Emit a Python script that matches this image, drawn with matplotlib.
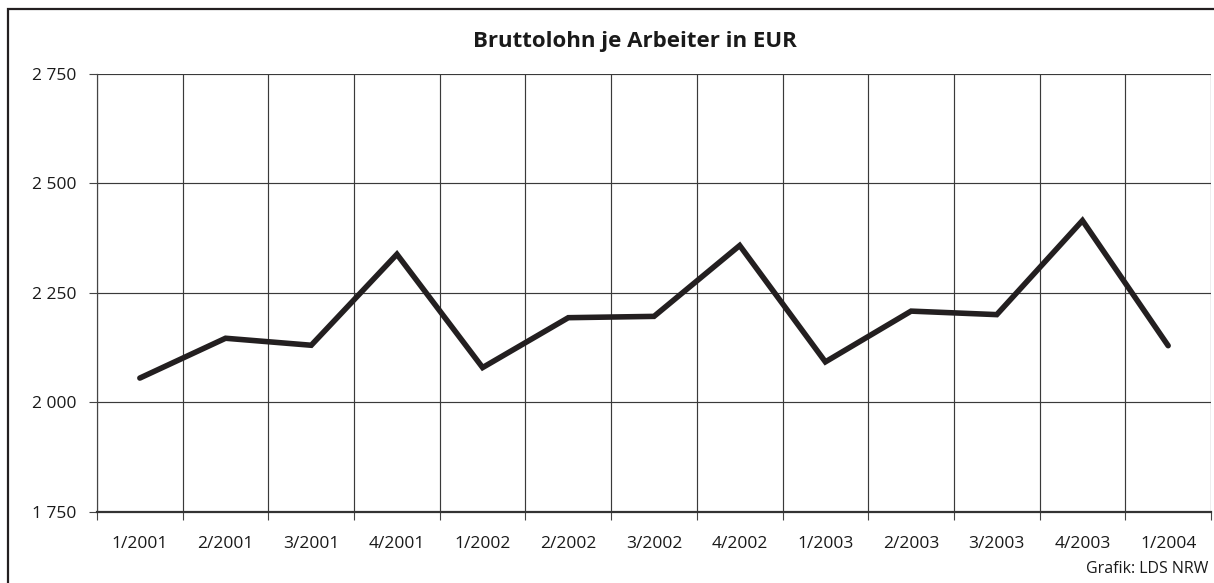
import matplotlib
matplotlib.use("Agg")
import matplotlib.pyplot as plt
from matplotlib.patches import Rectangle

# Bruttolohn je Arbeiter (EUR), quarterly
quarters = ["1/2001", "2/2001", "3/2001", "4/2001",
            "1/2002", "2/2002", "3/2002", "4/2002",
            "1/2003", "2/2003", "3/2003", "4/2003",
            "1/2004"]
wages = [2055, 2146, 2130, 2338,
         2079, 2193, 2196, 2358,
         2092, 2208, 2200, 2415,
         2129]
y_ticks = [1750, 2000, 2250, 2500, 2750]
y_labels = ["1 750", "2 000", "2 250", "2 500", "2 750"]

plt.rcParams['font.family'] = ['Open Sans', 'DejaVu Sans']

W, H = 1214, 583
fig = plt.figure(figsize=(W / 100, H / 100), dpi=100)
ax = fig.add_axes([97 / W, 1 - 511.5 / H, (1211 - 97) / W, (511.5 - 74) / H])

x = list(range(len(quarters)))
ax.plot(x, wages, color='#231f20', linewidth=4.0,
        solid_joinstyle='miter', solid_capstyle='round', zorder=3)

ax.set_xlim(-0.5, len(quarters) - 0.5)
ax.set_ylim(1750, 2750)

# category labels centred, grid/ticks on the boundaries
ax.set_xticks(x)
ax.set_xticklabels(quarters, fontsize=12.5, color='#1a1a1a')
ax.tick_params(axis='x', which='major', length=0, pad=17.5)
ax.set_xticks([i - 0.5 for i in range(len(quarters) + 1)], minor=True)
ax.tick_params(axis='x', which='minor', length=6, width=0.8, color='#444444')
ax.grid(True, axis='x', which='minor', color='#3a3a3a', linewidth=0.85)

ax.set_yticks(y_ticks)
ax.set_yticklabels(y_labels, fontsize=12.5, color='#1a1a1a')
ax.tick_params(axis='y', length=6, width=0.8, color='#444444', pad=8.5)
ax.grid(True, axis='y', which='major', color='#3a3a3a', linewidth=0.85)

for side in ['top', 'right']:
    ax.spines[side].set_visible(False)
ax.spines['left'].set_color('#444444')
ax.spines['left'].set_linewidth(0.85)
ax.spines['bottom'].set_color('#333333')
ax.spines['bottom'].set_linewidth(1.6)

fig.text(635 / W, 1 - 42 / H, "Bruttolohn je Arbeiter in EUR",
         ha='center', va='center', fontsize=16, fontweight='bold', color='#1a1a1a')
fig.text(1208 / W, 1 - 569 / H, "Grafik: LDS NRW",
         ha='right', va='center', fontsize=11.5, color='#1a1a1a')

# outer frame
fig.patches.append(Rectangle((8 / W, -0.05), 1.2, 1 - 9 / H + 0.05,
                             transform=fig.transFigure, fill=False,
                             edgecolor='#231f20', linewidth=1.6))

fig.savefig("out.png", dpi=100)
